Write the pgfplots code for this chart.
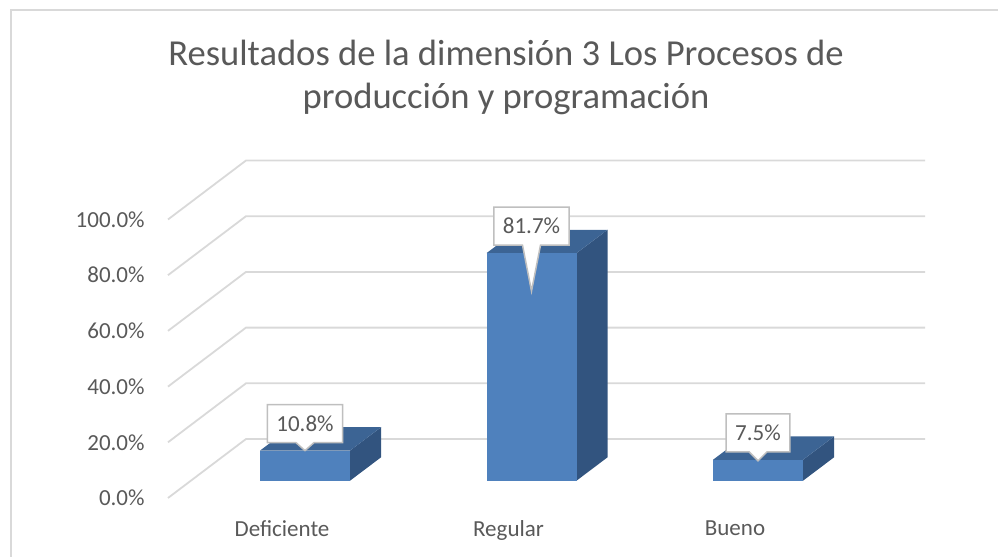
\documentclass[border=0pt]{standalone}
\usepackage{pgfplots}
\pgfplotsset{compat=1.18}
\usepackage{fontspec}
\setmainfont{Carlito}
\usetikzlibrary{shapes.callouts}
\definecolor{txt}{HTML}{595959}
\definecolor{grd}{HTML}{D9D9D9}
\definecolor{frontc}{HTML}{4F81BD}
\definecolor{topc}{HTML}{3C6494}
\definecolor{sidec}{HTML}{32547F}
\definecolor{framec}{HTML}{D9D9D9}
\definecolor{callb}{HTML}{BFBFBF}
\pgfplotsset{
  callout/.style={
    nodes near coords={\pgfmathprintnumber[fixed,fixed zerofill,precision=1,assume math mode=true]{\pgfplotspointmeta}\%},
    every node near coord/.append style={
      rectangle callout, fill=white, draw=callb, line width=0.75pt, text=txt,
      font=\fontsize{11.5}{13}\selectfont, anchor=center, yshift=13.5pt,
      inner xsep=4.5pt, inner ysep=0pt, minimum height=19pt,
      callout relative pointer={(canvas cs:x=0pt,y=-#1)}, callout pointer width=9pt}
  }
}
\begin{document}
\begin{tikzpicture}
\useasboundingbox (-84pt,-29.5pt) rectangle (415pt,249pt);
\draw[framec, line width=0.75pt] (-78.5pt,-29.5pt) -- (-78.5pt,244pt) -- (415pt,244pt);
\node[text=txt, font=\fontsize{18.3}{21}\selectfont, anchor=base, inner sep=0pt] at (169pt,216pt) {Resultados de la dimensión 3 Los Procesos de};
\node[text=txt, font=\fontsize{18.3}{21}\selectfont, anchor=base, inner sep=0pt] at (169pt,194.8pt) {producción y programación};
\begin{axis}[
  at={(0pt,0pt)}, anchor=south west,
  scale only axis, width=378.5pt, height=168.79pt,
  xmin=-0.6049, xmax=2.7373, ymin=-6.21, ymax=115,
  clip=false,
  axis line style={draw=none},
  major tick length=0pt, tick style={draw=none},
  xtick={-0.1015,0.8985,1.8985},
  xticklabels={Deficiente,Regular,Bueno},
  ytick={-6.21,13.79,33.79,53.79,73.79,93.79},
  yticklabels={0.0\%,20.0\%,40.0\%,60.0\%,80.0\%,100.0\%},
  ticklabel style={font=\fontsize{11.5}{13}\selectfont, text=txt},
  yticklabel style={anchor=east, inner sep=0pt, xshift=-11.5pt},
  xticklabel style={anchor=north, inner sep=0pt, yshift=-11pt},
]
% back wall / floor gridlines
\addplot[grd, line width=0.9pt] coordinates {(-0.6049,-6.21) (-0.2605,14.97) (2.7373,14.97)};
\addplot[grd, line width=0.9pt] coordinates {(-0.6049,13.79) (-0.2605,34.97) (2.7373,34.97)};
\addplot[grd, line width=0.9pt] coordinates {(-0.6049,33.79) (-0.2605,54.97) (2.7373,54.97)};
\addplot[grd, line width=0.9pt] coordinates {(-0.6049,53.79) (-0.2605,74.97) (2.7373,74.97)};
\addplot[grd, line width=0.9pt] coordinates {(-0.6049,73.79) (-0.2605,94.97) (2.7373,94.97)};
\addplot[grd, line width=0.9pt] coordinates {(-0.6049,93.79) (-0.2605,114.97) (2.7373,114.97)};
% side faces
\addplot[fill=sidec, draw=none] coordinates {(0.1987,0) (0.3357,8.4) (0.3357,19.2) (0.1987,10.8)};
\addplot[fill=sidec, draw=none] coordinates {(1.1987,0) (1.3357,8.4) (1.3357,90.1) (1.1987,81.7)};
\addplot[fill=sidec, draw=none] coordinates {(2.1987,0) (2.3357,8.4) (2.3357,15.9) (2.1987,7.5)};
% top faces
\addplot[fill=topc, draw=none] coordinates {(-0.1987,10.8) (-0.0617,19.2) (0.3357,19.2) (0.1987,10.8)};
\addplot[fill=topc, draw=none] coordinates {(0.8013,81.7) (0.9383,90.1) (1.3357,90.1) (1.1987,81.7)};
\addplot[fill=topc, draw=none] coordinates {(1.8013,7.5) (1.9383,15.9) (2.3357,15.9) (2.1987,7.5)};
% front faces with labels
\addplot[ybar, bar width=0.3974, bar shift=0pt, fill=frontc, draw=none, callout=4pt] coordinates {(0,10.8)};
\addplot[ybar, bar width=0.3974, bar shift=0pt, fill=frontc, draw=none, callout=23pt] coordinates {(1,81.7)};
\addplot[ybar, bar width=0.3974, bar shift=0pt, fill=frontc, draw=none, callout=4.5pt] coordinates {(2,7.5)};
\end{axis}
\end{tikzpicture}
\end{document}
